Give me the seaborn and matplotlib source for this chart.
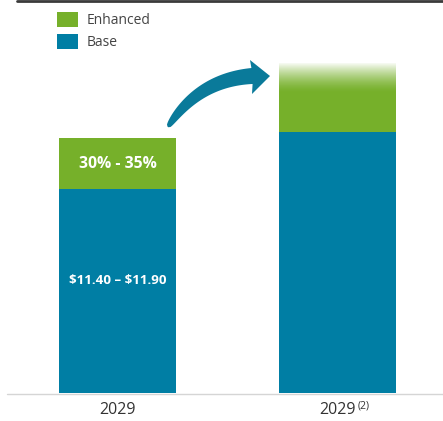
import numpy as np
import pandas as pd
import matplotlib
matplotlib.use("Agg")
import matplotlib.pyplot as plt
from matplotlib.patches import Patch, Polygon
from matplotlib.lines import Line2D
import seaborn as sns

# ---- data ----
categories = ["2029", "2029 (2)"]
tick_labels = ["2029", "2029"]
base_values = [100, 128]
enhanced_values = [25, 34]
enhanced_label = "30% - 35%"
base_label = "$11.40 – $11.90"
legend_labels = ["Enhanced", "Base"]

BLUE = "#007ea4"
GREEN = "#76b02a"
TEXT = "#333333"

sns.set_style("white")
plt.rcParams["font.family"] = ["Open Sans", "DejaVu Sans"]

W, H = 443, 421
fig = plt.figure(figsize=(W / 100, H / 100), dpi=100)
fig.patch.set_facecolor("white")

ax = fig.add_axes([0, 0, 1, 1])
ax.set_facecolor("none")
scale = 2.04  # px per unit
df = pd.DataFrame({
    "cat": categories,
    "total": [b + e for b, e in zip(base_values, enhanced_values)],
    "base": base_values,
})
sns.barplot(data=df, x="cat", y="total", color=GREEN, saturation=1, width=0.532,
            linewidth=0, edgecolor="none", ax=ax)
sns.barplot(data=df, x="cat", y="base", color=BLUE, saturation=1, width=0.532,
            linewidth=0, edgecolor="none", ax=ax)
for s in ax.spines.values():
    s.set_visible(False)
ax.set_xlabel("")
ax.set_ylabel("")
ax.set_yticks([])
ax.set_xticks([])

# fade on top of second bar
p2 = ax.patches[1]
x0 = p2.get_x()
x1 = x0 + p2.get_width()
top = p2.get_y() + p2.get_height()
fade_h = 15
grad = np.zeros((64, 2, 4))
grad[..., :3] = 1.0
grad[..., 3] = np.linspace(0, 1, 64)[:, None] ** 1.5
ax.imshow(grad, extent=[x0, x1, top - fade_h, top], origin="lower",
          aspect="auto", zorder=5, interpolation="bilinear")
ax.set_xlim((0 - 117.5) / 220, (W - 117.5) / 220)
ax.set_ylim(-(H - 393) / scale, 393 / scale)

# bar labels
ax.text(0, base_values[0] + enhanced_values[0] / 2, enhanced_label, ha="center", va="center",
        color="white", fontsize=11.3, fontweight="bold", zorder=6)
ax.text(0, base_values[0] * 0.55, base_label.replace("$", r"\$"), ha="center", va="center",
        color="white", fontsize=9.6, fontweight="bold", zorder=6)

def px(x, y):
    return x / W, 1 - y / H

for i, lab in enumerate(tick_labels):
    ax.text(i, -(410 - 393) / scale, lab, ha="center", va="center", color=TEXT,
            fontsize=11.5, zorder=6)
fig.text(*px(358, 406), "(2)", ha="left", va="center", color=TEXT, fontsize=7.5)

# baseline and top rule
fig.add_artist(Line2D([7 / W, 1], [1 - 393.5 / H] * 2, color="#d5d5d5", lw=1))
fig.add_artist(Line2D([17 / W, 1], [1 - 1 / H] * 2, color="#3a3a3a", lw=2))

# legend
handles = [Patch(facecolor=GREEN, edgecolor="none"), Patch(facecolor=BLUE, edgecolor="none")]
fig.legend(handles, legend_labels, loc="upper left", bbox_to_anchor=px(51, 6),
           frameon=False, fontsize=10, handlelength=1.55, handleheight=1.3,
           handletextpad=0.6, labelspacing=0.42, labelcolor="#444444", borderaxespad=0)

# curved tapered arrow (pixel coordinates, top-left origin)
P0 = np.array([168, 127.0])
C = np.array([198, 80.0])
P2 = np.array([252, 76.0])
t = np.linspace(0, 1, 80)
pts = ((1 - t)[:, None] ** 2) * P0 + (2 * (1 - t) * t)[:, None] * C + (t[:, None] ** 2) * P2
d = 2 * (1 - t)[:, None] * (C - P0) + 2 * t[:, None] * (P2 - C)
nrm = np.stack([d[:, 1], -d[:, 0]], axis=1)
nrm /= np.linalg.norm(nrm, axis=1)[:, None]
wid = 0.5 + 7.5 * t ** 0.35
upper = pts + nrm * wid[:, None]
lower = pts - nrm * wid[:, None]
if upper[-1, 1] > lower[-1, 1]:
    upper, lower = lower, upper
head = np.array([[250, 60], [270, 76], [252, 94]])
poly = np.vstack([upper, head, lower[::-1]])
poly_fig = np.array([px(x, y) for x, y in poly])
fig.add_artist(Polygon(poly_fig, closed=True, transform=fig.transFigure,
                       facecolor="#0a7a9a", edgecolor="none"))

fig.savefig("out.png", dpi=100, facecolor="white")
